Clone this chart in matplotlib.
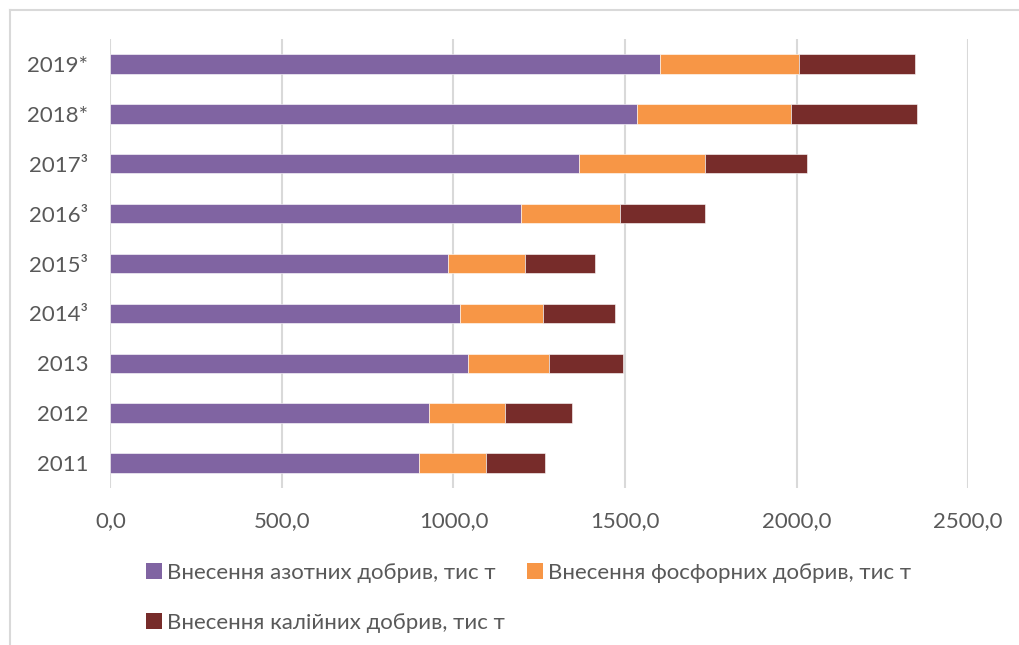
import matplotlib.pyplot as plt
from matplotlib.lines import Line2D
from matplotlib.patches import Patch

# роки (знизу вгору) та внесення добрив, тис т
years = ["2011", "2012", "2013", "2014³", "2015³", "2016³", "2017³", "2018*", "2019*"]
nitrogen = [900, 929, 1042, 1020, 984, 1198, 1365, 1535, 1602]
phosphorus = [196, 222, 237, 241, 223, 288, 367, 449, 404]
potassium = [170, 194, 214, 209, 206, 246, 299, 367, 338]
xticks = [0, 500, 1000, 1500, 2000, 2500]

labels = ["Внесення азотних добрив, тис т",
          "Внесення фосфорних добрив, тис т",
          "Внесення калійних добрив, тис т"]
colors = ["#8064A2", "#F79646", "#772C2A"]

plt.rcParams['font.family'] = ['Lato', 'DejaVu Sans']
text_color = "#595959"
grid_color = "#D9D9D9"

fig = plt.figure(figsize=(10.19, 6.45), dpi=100)
ax = fig.add_axes([0.1084, 0.2434, 0.8416, 0.6961])

pos = list(range(len(years)))
h = 0.39
left_k = [a + b for a, b in zip(nitrogen, phosphorus)]
ax.barh(pos, nitrogen, height=h, color=colors[0], edgecolor="white", linewidth=0.4, zorder=3)
ax.barh(pos, phosphorus, left=nitrogen, height=h, color=colors[1], edgecolor="white", linewidth=0.4, zorder=3)
ax.barh(pos, potassium, left=left_k, height=h, color=colors[2], edgecolor="white", linewidth=0.4, zorder=3)

ax.set_xlim(0, 2500)
ax.set_ylim(-0.5, len(years) - 0.5)
ax.set_xticks(xticks)
ax.set_xticklabels([f"{v:.1f}".replace(".", ",") for v in xticks])
ax.set_yticks(pos)
ax.set_yticklabels(years)
ax.tick_params(axis="both", length=0, labelsize=16, colors=text_color)
ax.tick_params(axis="x", pad=16.5)
ax.tick_params(axis="y", pad=16)
ax.grid(axis="x", color=grid_color, linewidth=1.5, zorder=0)
for s in ax.spines.values():
    s.set_visible(False)

# рамка діаграми
fig.add_artist(Line2D([10 / 1019, 10 / 1019], [0, 1 - 10 / 645], color=grid_color, linewidth=1.5))
fig.add_artist(Line2D([10 / 1019, 1], [1 - 10 / 645, 1 - 10 / 645], color=grid_color, linewidth=1.5))

# легенда: два елементи в першому рядку, один у другому
handles = [Patch(facecolor=c) for c in colors]
order = [0, 2, 1]
leg = fig.legend([handles[i] for i in order], [labels[i] for i in order],
                 ncol=2, loc="upper left", bbox_to_anchor=(146 / 1019, 1 - 563 / 645),
                 frameon=False, fontsize=16, handlelength=0.7, handleheight=0.7,
                 handletextpad=0.25, columnspacing=1.0, labelspacing=1.35,
                 borderpad=0, borderaxespad=0)
for t in leg.get_texts():
    t.set_color(text_color)

fig.savefig("out.png", dpi=100)
